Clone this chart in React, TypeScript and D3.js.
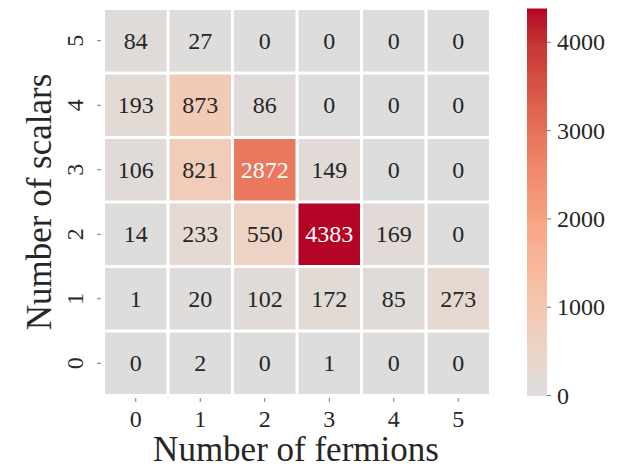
import React from "react";
import * as d3 from "d3";

// Number of fermions (columns) and number of scalars (rows, top to bottom)
const fermions = [0, 1, 2, 3, 4, 5];
const scalars = [5, 4, 3, 2, 1, 0];

// Counts per row, indexed by number of fermions
const scalars0 = [0, 2, 0, 1, 0, 0];
const scalars1 = [1, 20, 102, 172, 85, 273];
const scalars2 = [14, 233, 550, 4383, 169, 0];
const scalars3 = [106, 821, 2872, 149, 0, 0];
const scalars4 = [193, 873, 86, 0, 0, 0];
const scalars5 = [84, 27, 0, 0, 0, 0];

const rowsByScalars: Record<number, number[]> = {
  0: scalars0,
  1: scalars1,
  2: scalars2,
  3: scalars3,
  4: scalars4,
  5: scalars5,
};

const colorbarTicks = [0, 1000, 2000, 3000, 4000];

// Upper (warm) half of the Moreland cool-warm diverging map
const coolwarmPos = [
  0.5, 0.53125, 0.5625, 0.59375, 0.625, 0.65625, 0.6875, 0.71875, 0.75,
  0.78125, 0.8125, 0.84375, 0.875, 0.90625, 0.9375, 0.96875, 1.0,
];
const coolwarmRGB = [
  "rgb(221,221,221)", "rgb(229,216,209)", "rgb(236,211,197)", "rgb(241,204,185)",
  "rgb(245,196,173)", "rgb(247,187,160)", "rgb(247,177,148)", "rgb(247,166,135)",
  "rgb(244,154,123)", "rgb(241,141,111)", "rgb(236,127,99)", "rgb(229,112,88)",
  "rgb(222,96,77)", "rgb(213,80,66)", "rgb(203,62,56)", "rgb(192,40,47)",
  "rgb(180,4,38)",
];

const W = 631;
const H = 469;
const FONT = "'Liberation Serif', 'Times New Roman', serif";
const TEXT = "#262626";
const TICK = "#555555";

export default function App() {
  const allValues = scalars.flatMap((s) => rowsByScalars[s]);
  const vmax = d3.max(allValues) as number;

  const x = d3.scaleBand<number>().domain(fermions).range([103.5, 490.5]);
  const y = d3.scaleBand<number>().domain(scalars).range([8.5, 395.5]);

  const cmap = d3
    .scaleLinear<string>()
    .domain(coolwarmPos)
    .range(coolwarmRGB)
    .interpolate(d3.interpolateRgb)
    .clamp(true);
  // center at zero: the data span maps onto the warm half only
  const color = (v: number) => cmap(0.5 + 0.5 * (v / vmax));

  const luminance = (c: string) => {
    const rgb = d3.rgb(c);
    const ch = [rgb.r, rgb.g, rgb.b].map((u) => {
      const s = u / 255;
      return s <= 0.03928 ? s / 12.92 : Math.pow((s + 0.055) / 1.055, 2.4);
    });
    return 0.2126 * ch[0] + 0.7152 * ch[1] + 0.0722 * ch[2];
  };

  const cbX = 527;
  const cbW = 20;
  const cb = d3.scaleLinear().domain([0, vmax]).range([395.5, 8.5]);
  const cbSteps = d3.range(0, 200).map((i) => (i / 200) * vmax);

  const gap = 3;

  return (
    <div style={{ position: "fixed", left: 0, top: 0 }}>
      <svg width={W} height={H} style={{ display: "block", background: "#fff" }}>
        {/* heatmap cells */}
        {scalars.map((s) =>
          rowsByScalars[s].map((v, i) => {
            const f = fermions[i];
            const fill = color(v);
            const cx = (x(f) as number) + x.bandwidth() / 2;
            const cy = (y(s) as number) + y.bandwidth() / 2;
            return (
              <g key={`${s}-${f}`}>
                <rect
                  x={(x(f) as number) + gap / 2}
                  y={(y(s) as number) + gap / 2}
                  width={x.bandwidth() - gap}
                  height={y.bandwidth() - gap}
                  fill={fill}
                />
                <text
                  x={cx}
                  y={cy + 8}
                  textAnchor="middle"
                  fontFamily={FONT}
                  fontSize={24}
                  fill={luminance(fill) > 0.408 ? TEXT : "#ffffff"}
                >
                  {v}
                </text>
              </g>
            );
          })
        )}

        {/* x axis ticks */}
        {fermions.map((f) => {
          const cx = (x(f) as number) + x.bandwidth() / 2;
          return (
            <g key={`xt-${f}`}>
              <line x1={cx} x2={cx} y1={398} y2={402} stroke={TICK} strokeWidth={0.8} />
              <text x={cx} y={427} textAnchor="middle" fontFamily={FONT} fontSize={24} fill={TEXT}>
                {f}
              </text>
            </g>
          );
        })}

        {/* y axis ticks (labels rotated) */}
        {scalars.map((s) => {
          const cy = (y(s) as number) + y.bandwidth() / 2;
          return (
            <g key={`yt-${s}`}>
              <line x1={97} x2={101} y1={cy} y2={cy} stroke={TICK} strokeWidth={0.8} />
              <text
                transform={`translate(${83},${cy}) rotate(-90)`}
                textAnchor="middle"
                fontFamily={FONT}
                fontSize={24}
                fill={TEXT}
              >
                {s}
              </text>
            </g>
          );
        })}

        {/* axis titles */}
        <text
          x={296}
          y={461}
          textAnchor="middle"
          fontFamily={FONT}
          fontSize={35}
          fill={TEXT}
        >
          Number of fermions
        </text>
        <text
          transform={`translate(${51},${202}) rotate(-90)`}
          textAnchor="middle"
          fontFamily={FONT}
          fontSize={35}
          fill={TEXT}
        >
          Number of scalars
        </text>

        {/* colorbar */}
        {cbSteps.map((v, i) => {
          const v2 = i === cbSteps.length - 1 ? vmax : cbSteps[i + 1];
          return (
            <rect
              key={`cb-${i}`}
              x={cbX}
              y={cb(v2)}
              width={cbW}
              height={cb(v) - cb(v2) + 0.6}
              fill={color((v + v2) / 2)}
            />
          );
        })}
        {colorbarTicks.map((t) => (
          <g key={`cbt-${t}`}>
            <line x1={cbX + cbW} x2={cbX + cbW + 4} y1={cb(t)} y2={cb(t)} stroke={TICK} strokeWidth={0.8} />
            <text x={cbX + cbW + 10} y={cb(t) + 8} fontFamily={FONT} fontSize={24} fill={TEXT}>
              {t}
            </text>
          </g>
        ))}
      </svg>
    </div>
  );
}
